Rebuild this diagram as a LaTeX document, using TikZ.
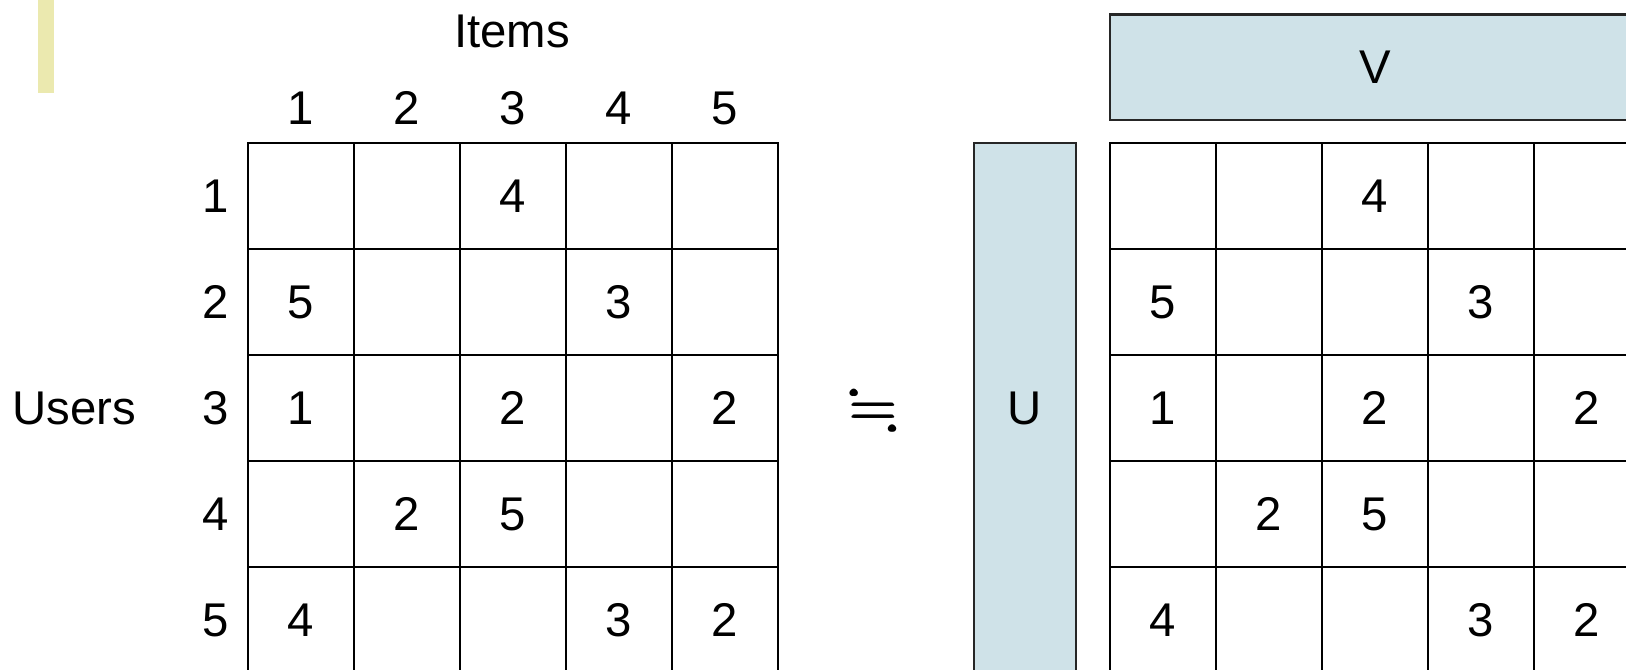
\documentclass[tikz,border=0pt]{standalone}
\usepackage{amsmath}
\usepackage{amssymb}
\usepackage{fontspec}
\setmainfont{Liberation Sans}
\usetikzlibrary{positioning}

\begin{document}
\begin{tikzpicture}[x=0.75pt, y=-0.75pt, font=\fontsize{35.5}{40}\selectfont,
    cell/.style={draw, line width=2.2pt, minimum size=79.5pt, inner sep=0pt},
    factor/.style={draw=black!85, line width=2.2pt, fill=factorblue}]

    % Colours
    \definecolor{factorblue}{RGB}{207,226,232}
    \definecolor{markyellow}{RGB}{235,233,175}

    \useasboundingbox (0,0) rectangle (1626,670);

    % ===== Margin mark (top left) =====
    \fill[markyellow] (38,0) rectangle (54,93);

    % 1. Rating matrix (left) and its copy (right)
    \foreach \r in {1,...,5} {
        \foreach \c in {1,...,5} {
            \node[cell] (L-\r-\c) at (195+106*\c, 90+106*\r) {};
            \node[cell] (R-\r-\c) at (1057+106*\c, 90+106*\r) {};
        }
    }
    \foreach \r/\c/\v in {1/3/4, 2/1/5, 2/4/3, 3/1/1, 3/3/2, 3/5/2,
                          4/2/2, 4/3/5, 5/1/4, 5/4/3, 5/5/2} {
        \node at (L-\r-\c) {\v};
        \node at (R-\r-\c) {\v};
    }

    % 2. Headers
    \foreach \i in {1,...,5} {
        \node (col-\i) at (195+106*\i, 108) {\i};
        \node (row-\i) at (215.5, 90+106*\i) {\i};
    }
    \node (items) at (512, 31) {Items};
    \node (users) at (74, 408) {Users};

    % 3. Approximately equal sign
    \node (approx) at (874, 411) {\fontsize{46}{52}\selectfont$\pmb{\fallingdotseq}$};

    % 4. Factor matrices U and V
    \filldraw[factor] (974,143) rectangle (1076,700);
    \node (U) at (1025, 408) {U};
    \filldraw[factor] (1110,14.5) rectangle (1640,120);
    \node (V) at (1375, 67) {V};

\end{tikzpicture}
\end{document}
